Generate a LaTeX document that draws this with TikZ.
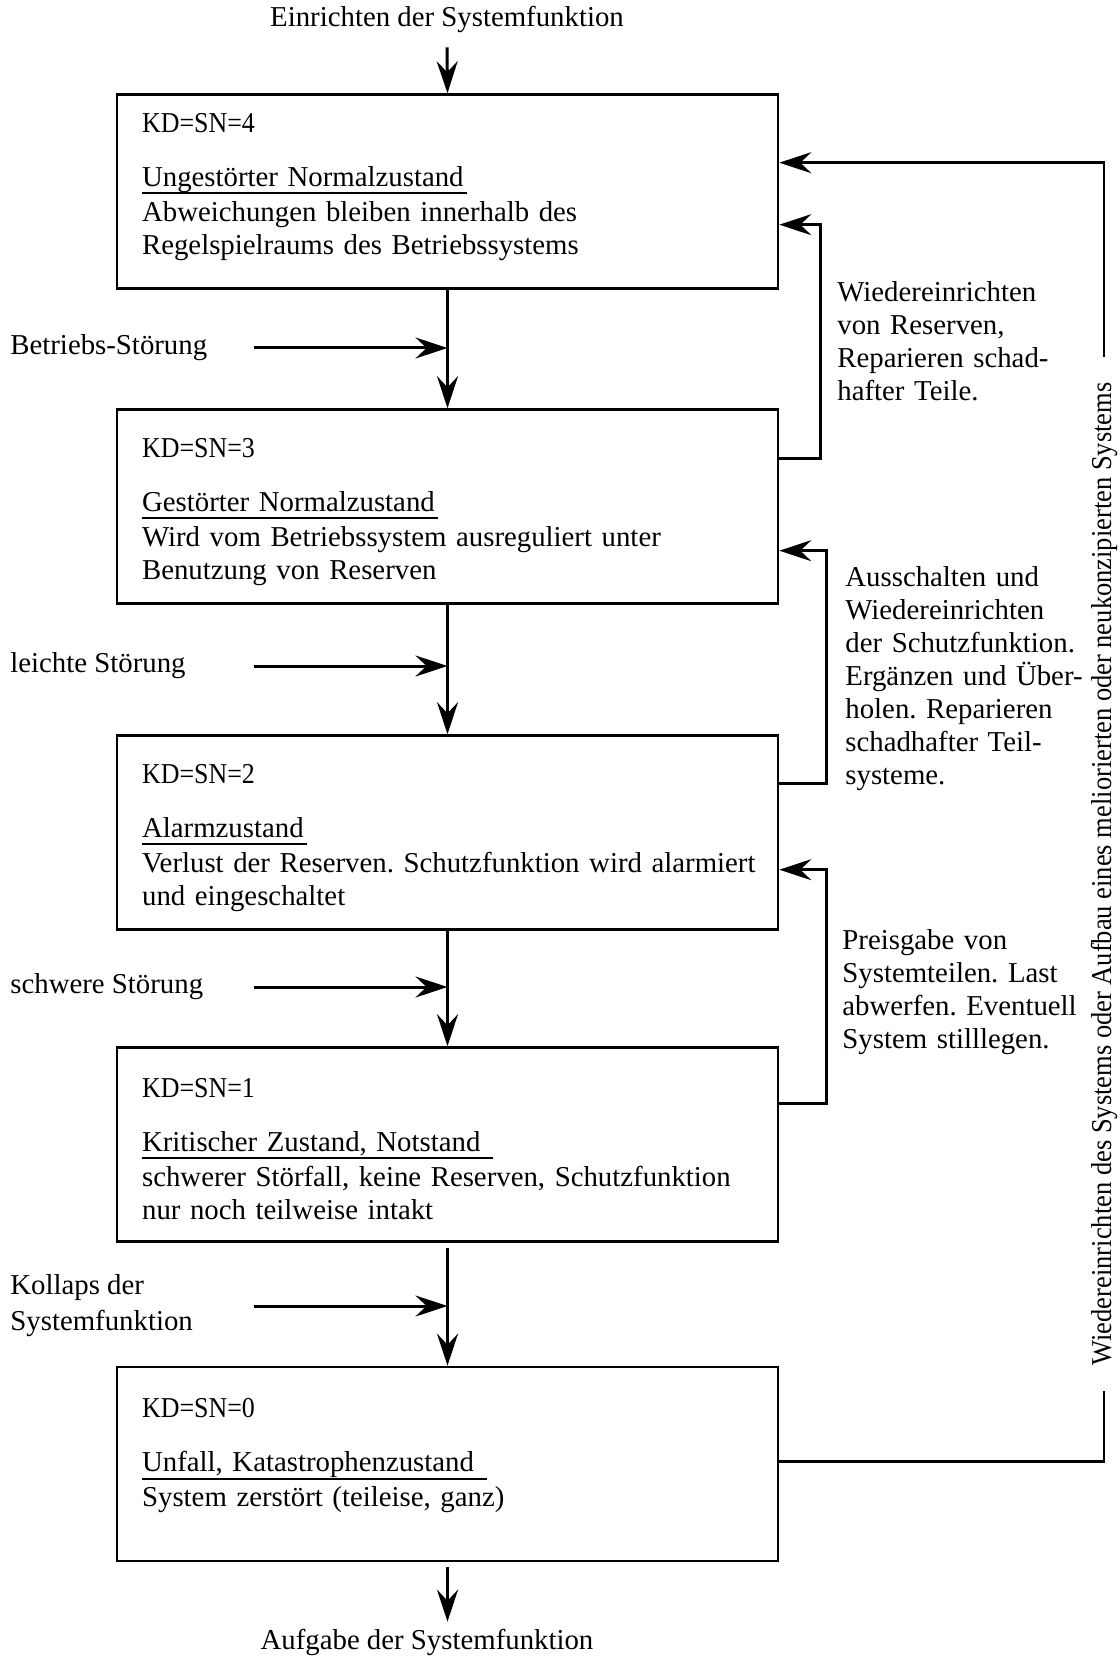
\documentclass[tikz,border=0pt]{standalone}
\usepackage{fontspec}
\setmainfont{Liberation Serif}
\usepackage{graphicx}
\usetikzlibrary{arrows.meta,positioning,calc}
\frenchspacing

\newsavebox\ulbox
\newcommand{\ulined}[1]{\leavevmode\sbox\ulbox{#1}\rlap{\rule[-4.1pt]{\dimexpr\wd\ulbox+1.5pt\relax}{1.2pt}}\usebox\ulbox}
\newcommand{\kd}[1]{\scalebox{0.9}[1]{KD=SN=#1}}

\begin{document}
\begin{tikzpicture}[x=0.5pt, y=-0.5pt, font=\fontsize{14.4}{16.5}\selectfont,
		state/.style={draw, line width=1.3pt, minimum width=330.5pt, minimum height=97pt, inner sep=0pt},
		inside/.style={anchor=base west, text width=330pt, align=left, inner sep=0pt},
		note/.style={anchor=base west, text width=150pt, align=left, inner sep=0pt},
		cause/.style={anchor=west, inner sep=0pt, align=left},
		tip/.style={-{Stealth[length=16pt, width=10.5pt, inset=5.5pt]}},
		flow/.style={tip, line width=1.5pt},
		back/.style={tip, line width=1.3pt}]
		\useasboundingbox (0,0) rectangle (1119,1657);
		
		% States, KD=SN from 4 down to 0
		\node[state] (kd4) at (447.5,191.5) {};
		\node[state] (kd3) at (447.5,506.5) {};
		\node[state] (kd2) at (447.5,832.5) {};
		\node[state] (kd1) at (447.5,1144.5) {};
		\node[state] (kd0) at (447.5,1464) {};
		
		\node[inside] (t4) at ([xshift=13pt, yshift=-19.5pt]kd4.north west) {\kd{4}\\[10.5pt]\ulined{Ungestörter Normalzustand}\\[1pt]Abweichungen bleiben innerhalb des\\Regelspielraums des Betriebssystems};
		\node[inside] (t3) at ([xshift=13pt, yshift=-24.5pt]kd3.north west) {\kd{3}\\[10.5pt]\ulined{Gestörter Normalzustand}\\[1pt]Wird vom Betriebssystem ausreguliert unter\\Benutzung von Reserven};
		\node[inside] (t2) at ([xshift=13pt, yshift=-24.5pt]kd2.north west) {\kd{2}\\[10.5pt]\ulined{Alarmzustand}\\[1pt]Verlust der Reserven. Schutzfunktion wird alarmiert\\und eingeschaltet};
		\node[inside] (t1) at ([xshift=13pt, yshift=-25.5pt]kd1.north west) {\kd{1}\\[10.5pt]\ulined{Kritischer Zustand, Notstand\ }\\[1pt]schwerer Störfall, keine Reserven, Schutzfunktion\\nur noch teilweise intakt};
		\node[inside] (t0) at ([xshift=13pt, yshift=-26pt]kd0.north west) {\kd{0}\\[10.5pt]\ulined{Unfall, Katastrophenzustand\ }\\[1pt]System zerstört (teileise, ganz)};
		
		% Main line top to bottom
		\node (begin) at (447,19) {Einrichten der Systemfunktion};
		\node (finish) at (427,1642) {Aufgabe der Systemfunktion};
		\draw[flow] ([yshift=-4pt]begin.south) -- (kd4.north);
		\draw[flow] (kd4) -- (kd3);
		\draw[flow] (kd3) -- (kd2);
		\draw[flow] (kd2) -- (kd1);
		\draw[flow] ([yshift=-2.5pt]kd1.south) -- (kd0.north);
		\draw[flow] ([yshift=-2.5pt]kd0.south) -- (kd0.south |- finish.north);
		
		% Disturbances from the left
		\node[cause] (d3) at (10,348) {Betriebs-Störung};
		\node[cause] (d2) at (10,666) {leichte Störung};
		\node[cause] (d1) at (10,987) {schwere Störung};
		\node[cause] (d0) at (10,1306) {Kollaps der\\[1.5pt]Systemfunktion};
		\draw[flow] ($(kd4.west |- d3)+(69pt,0)$) -- (kd4.south |- d3);
		\draw[flow] ($(kd3.west |- d2)+(69pt,0)$) -- (kd3.south |- d2);
		\draw[flow] ($(kd2.west |- d1)+(69pt,0)$) -- (kd2.south |- d1);
		\draw[flow] ($(kd1.west |- d0)+(69pt,0)$) -- (kd1.south |- d0);
		
		% Recovery loops on the right
		\node[note] (repA) at (837,302) {Wiedereinrichten\\von Reserven,\\Reparieren schad-\\hafter Teile.};
		\node[note] (repB) at (845,586) {Ausschalten und\\Wiedereinrichten\\der Schutzfunktion.\\Ergänzen und Über-\\holen. Reparieren\\schadhafter Teil-\\systeme.};
		\node[note] (repC) at (842,949) {Preisgabe von\\Systemteilen. Last\\abwerfen. Eventuell\\System stilllegen.};
		\draw[back] ([yshift=-25.25pt]kd3.north east) -- ++(20.5pt,0) |- ([yshift=-65.75pt]kd4.north east);
		\draw[back] ([yshift=-24.5pt]kd2.north east) -- ++(23.5pt,0) |- ([yshift=-71.25pt]kd3.north east);
		\draw[back] ([yshift=-28.75pt]kd1.north east) -- ++(23.5pt,0) |- ([yshift=-67.75pt]kd2.north east);
		
		% Rebuild after collapse
		\node[rotate=90, minimum width=517pt, inner sep=0pt] (rebuild) at (1104,874) {\scalebox{0.92}[1]{Wiedereinrichten des Systems oder Aufbau eines meliorierten oder neukonzipierten Systems}};
		\draw[line width=1.3pt] ([yshift=-48pt]kd0.north east) -| (rebuild.west);
		\draw[back] (rebuild.east) |- ([yshift=-34.75pt]kd4.north east);
	\end{tikzpicture}
\end{document}
